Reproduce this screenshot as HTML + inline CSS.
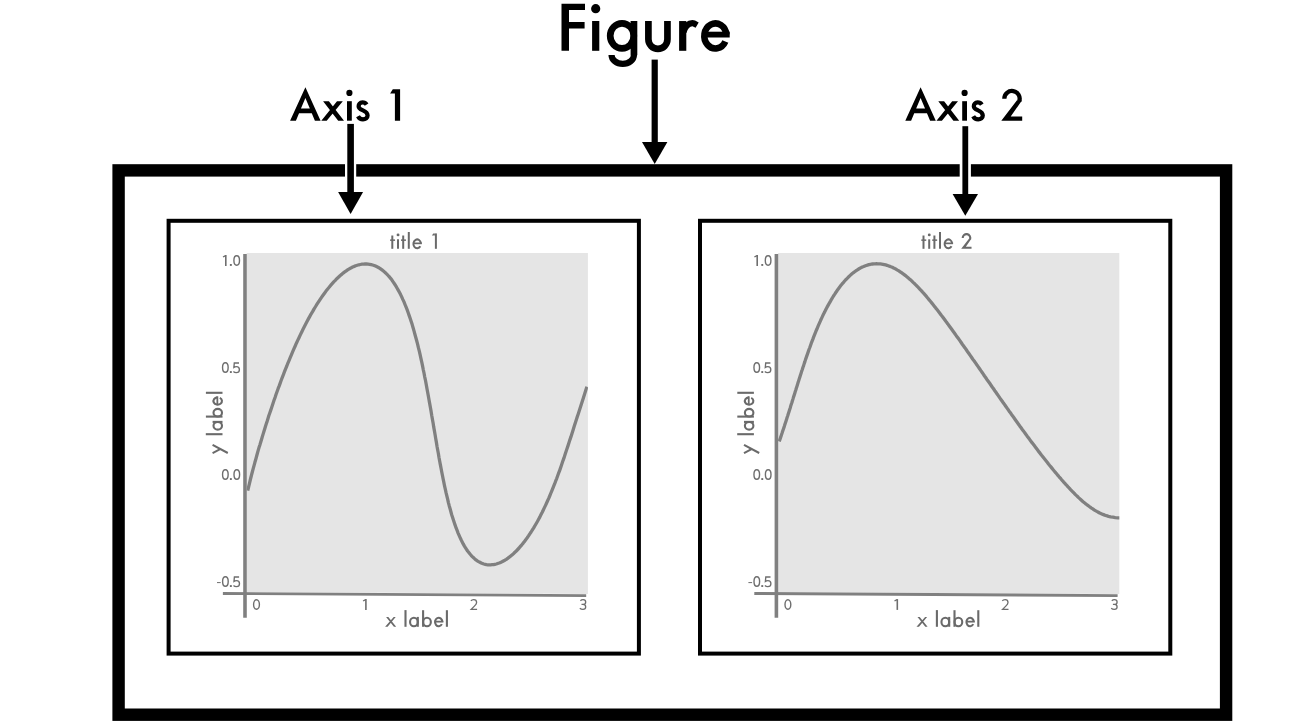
<!DOCTYPE html>
<html><head><meta charset="utf-8"><style>
html,body{margin:0;padding:0;background:#fff;width:1313px;height:727px;overflow:hidden}
svg{display:block;font-family:"Liberation Sans", sans-serif}
</style></head><body>
<svg width="1313" height="727" viewBox="0 0 1313 727">
<rect x="118.6" y="170.4" width="1107.5" height="544.3" fill="none" stroke="#000" stroke-width="12.4"/>
<rect x="168.6" y="220.8" width="470.3" height="432.8" fill="none" stroke="#000" stroke-width="4"/>
<polygon points="246.7,253 587.9,253 587.9,594 246.7,592" fill="#e5e5e5"/>
<clipPath id="c0"><rect x="246.7" y="250" width="341.2" height="345"/></clipPath>
<path d="M247.7 490.7 L248.7 486.6 L249.6 482.8 L250.5 479.0 L251.4 475.5 L252.3 472.0 L253.2 468.6 L254.1 465.4 L254.9 462.3 L255.8 459.2 L256.6 456.2 L257.4 453.3 L258.2 450.4 L259.0 447.6 L259.9 444.9 L260.7 442.2 L261.5 439.5 L262.3 436.8 L263.1 434.1 L263.9 431.5 L264.7 428.9 L265.5 426.3 L266.3 423.7 L267.2 421.1 L268.0 418.5 L268.8 415.8 L269.7 413.2 L270.6 410.6 L271.5 407.9 L272.4 405.2 L273.3 402.5 L274.2 399.8 L275.2 397.1 L276.1 394.3 L277.1 391.5 L278.1 388.7 L279.2 385.9 L280.2 383.1 L281.2 380.3 L282.3 377.4 L283.4 374.6 L284.5 371.7 L285.6 368.8 L286.8 366.0 L287.9 363.1 L289.1 360.3 L290.3 357.4 L291.5 354.6 L292.7 351.7 L293.9 348.9 L295.2 346.0 L296.4 343.2 L297.7 340.4 L299.0 337.7 L300.3 334.9 L301.6 332.2 L302.9 329.5 L304.3 326.8 L305.7 324.1 L307.0 321.5 L308.4 318.9 L309.8 316.4 L311.2 313.8 L312.7 311.4 L314.1 308.9 L315.6 306.5 L317.0 304.2 L318.5 301.9 L320.0 299.6 L321.5 297.4 L323.0 295.3 L324.5 293.2 L326.0 291.1 L327.5 289.2 L329.1 287.3 L330.6 285.4 L332.2 283.6 L333.7 281.9 L335.3 280.3 L336.8 278.7 L338.4 277.2 L340.0 275.7 L341.6 274.4 L343.1 273.1 L344.7 271.9 L346.3 270.8 L347.9 269.7 L349.4 268.8 L351.0 267.9 L352.6 267.1 L354.2 266.4 L355.7 265.8 L357.3 265.3 L358.9 264.8 L360.4 264.5 L362.0 264.2 L363.5 264.1 L365.0 264.0 L366.6 264.0 L368.1 264.1 L369.6 264.3 L371.1 264.6 L372.6 265.0 L374.1 265.5 L375.5 266.1 L377.0 266.8 L378.4 267.5 L379.9 268.4 L381.3 269.4 L382.7 270.4 L384.1 271.6 L385.4 272.8 L386.8 274.1 L388.1 275.5 L389.5 277.0 L390.8 278.6 L392.1 280.3 L393.3 282.1 L394.6 284.0 L395.8 285.9 L397.0 288.0 L398.2 290.1 L399.4 292.3 L400.6 294.6 L401.7 296.9 L402.8 299.4 L404.0 301.9 L405.0 304.5 L406.1 307.2 L407.2 309.9 L408.2 312.7 L409.2 315.6 L410.2 318.5 L411.2 321.5 L412.2 324.6 L413.1 327.7 L414.0 330.9 L414.9 334.2 L415.8 337.5 L416.7 340.8 L417.6 344.2 L418.4 347.7 L419.3 351.2 L420.1 354.7 L420.9 358.3 L421.7 361.9 L422.5 365.6 L423.2 369.3 L424.0 373.0 L424.7 376.8 L425.5 380.5 L426.2 384.3 L426.9 388.2 L427.6 392.0 L428.3 395.8 L429.0 399.7 L429.7 403.6 L430.4 407.5 L431.1 411.4 L431.7 415.3 L432.4 419.2 L433.1 423.0 L433.7 426.9 L434.4 430.8 L435.1 434.7 L435.7 438.5 L436.4 442.4 L437.0 446.2 L437.7 450.0 L438.4 453.7 L439.0 457.5 L439.7 461.2 L440.4 464.9 L441.1 468.5 L441.8 472.2 L442.5 475.7 L443.2 479.3 L443.9 482.7 L444.6 486.2 L445.4 489.6 L446.1 492.9 L446.9 496.2 L447.7 499.4 L448.4 502.6 L449.2 505.7 L450.1 508.8 L450.9 511.7 L451.7 514.7 L452.6 517.5 L453.5 520.3 L454.4 523.0 L455.3 525.6 L456.2 528.2 L457.2 530.7 L458.1 533.1 L459.1 535.4 L460.1 537.6 L461.1 539.8 L462.2 541.9 L463.2 543.9 L464.3 545.8 L465.4 547.6 L466.5 549.3 L467.6 551.0 L468.8 552.5 L470.0 554.0 L471.1 555.3 L472.3 556.6 L473.6 557.8 L474.8 558.9 L476.0 559.9 L477.3 560.8 L478.6 561.6 L479.9 562.3 L481.2 563.0 L482.5 563.5 L483.8 564.0 L485.2 564.3 L486.5 564.6 L487.9 564.8 L489.3 564.8 L490.7 564.8 L492.1 564.7 L493.5 564.6 L494.9 564.3 L496.3 564.0 L497.7 563.5 L499.2 563.0 L500.6 562.4 L502.0 561.8 L503.4 561.0 L504.9 560.2 L506.3 559.3 L507.7 558.3 L509.2 557.2 L510.6 556.1 L512.0 554.9 L513.4 553.7 L514.9 552.3 L516.3 551.0 L517.7 549.5 L519.1 548.0 L520.4 546.4 L521.8 544.8 L523.2 543.1 L524.5 541.4 L525.9 539.6 L527.2 537.8 L528.5 535.9 L529.8 533.9 L531.1 532.0 L532.4 529.9 L533.7 527.9 L534.9 525.8 L536.1 523.7 L537.4 521.5 L538.6 519.3 L539.8 517.1 L540.9 514.8 L542.1 512.5 L543.2 510.2 L544.3 507.9 L545.4 505.6 L546.5 503.2 L547.6 500.8 L548.7 498.4 L549.7 496.0 L550.7 493.5 L551.7 491.1 L552.7 488.6 L553.7 486.2 L554.7 483.7 L555.6 481.2 L556.6 478.8 L557.5 476.3 L558.4 473.7 L559.4 471.2 L560.3 468.6 L561.2 466.0 L562.1 463.3 L563.0 460.6 L564.0 457.9 L564.9 455.1 L565.8 452.2 L566.8 449.3 L567.8 446.4 L568.8 443.3 L569.8 440.1 L570.9 436.9 L572.0 433.4 L573.1 429.9 L574.3 426.1 L575.6 422.1 L576.9 417.9 L578.4 413.5 L579.9 408.8 L581.5 403.7 L583.2 398.4 L585.0 392.8 L586.9 386.7" clip-path="url(#c0)" fill="none" stroke="#808080" stroke-width="3.3" stroke-linecap="butt" stroke-linejoin="round"/>
<line x1="245.0" y1="254" x2="245.0" y2="617.7" stroke="#808080" stroke-width="3.6"/>
<line x1="222.9" y1="593.45" x2="586.2" y2="595.6" stroke="#808080" stroke-width="2.9"/>
<g fill="#6e6e6e" stroke="#6e6e6e"><path d="M225.80 255.10V265.90" fill="none" stroke-width="1.6"/><path d="M225.60 255.60L223.00 257.00" fill="none" stroke-width="1.4"/><rect x="229.90" y="264.00" width="1.9" height="1.9" stroke="none"/><ellipse cx="236.70" cy="260.45" rx="2.80" ry="4.75" fill="none" stroke-width="1.4"/><ellipse cx="225.35" cy="367.50" rx="2.80" ry="4.80" fill="none" stroke-width="1.4"/><rect x="229.90" y="371.10" width="1.9" height="1.9" stroke="none"/><path d="M239.00 363.00H234.30L233.90 367.40C234.70 366.80 235.60 366.60 236.40 366.60C238.20 366.60 239.40 367.90 239.40 369.70C239.40 371.50 238.10 372.60 236.30 372.60C235.10 372.60 234.10 372.20 233.40 371.50" fill="none" stroke-width="1.35"/><ellipse cx="225.35" cy="474.50" rx="2.80" ry="4.80" fill="none" stroke-width="1.4"/><rect x="229.90" y="478.10" width="1.9" height="1.9" stroke="none"/><ellipse cx="236.80" cy="474.50" rx="2.80" ry="4.80" fill="none" stroke-width="1.4"/><path d="M217.00 582.60H220.70" fill="none" stroke-width="1.0"/><ellipse cx="225.40" cy="581.50" rx="2.80" ry="4.80" fill="none" stroke-width="1.4"/><rect x="229.90" y="585.10" width="1.9" height="1.9" stroke="none"/><path d="M239.10 577.00H234.40L234.00 581.40C234.80 580.80 235.70 580.60 236.50 580.60C238.30 580.60 239.50 581.90 239.50 583.70C239.50 585.50 238.20 586.60 236.40 586.60C235.20 586.60 234.20 586.20 233.50 585.50" fill="none" stroke-width="1.35"/><ellipse cx="256.50" cy="604.45" rx="2.90" ry="4.75" fill="none" stroke-width="1.4"/><path d="M365.90 599.10V609.90" fill="none" stroke-width="1.6"/><path d="M365.70 599.60L363.10 601.00" fill="none" stroke-width="1.4"/><path d="M470.90 600.90C471.70 599.70 472.80 599.60 473.70 599.60C475.50 599.60 476.60 600.80 476.60 602.40C476.60 603.90 475.50 605.00 474.40 606.10L471.20 609.30H477.10" fill="none" stroke-width="1.3" stroke-linejoin="miter"/><path d="M580.40 600.80C581.20 599.90 582.20 599.60 583.10 599.60C584.70 599.60 585.70 600.50 585.70 601.90C585.70 603.40 584.50 604.40 583.00 604.40H581.50M583.00 604.40C584.90 604.40 585.70 605.60 585.70 607.00C585.70 608.50 584.50 609.30 583.00 609.30C581.70 609.30 580.60 608.90 579.80 608.20" fill="none" stroke-width="1.3"/></g>
<g fill="#6a6a6a" stroke="#6a6a6a"><path d="M386.10 617.1H388.30L396.20 626.8H393.90Z M393.70 617.1H395.70L387.60 626.8H385.10Z" stroke="none"/><path d="M405.50 610.10V626.80" fill="none" stroke-width="2.1"/><ellipse cx="413.90" cy="622.05" rx="3.85" ry="4.25" fill="none" stroke-width="2.1"/><path d="M417.80 616.90V626.80" fill="none" stroke-width="2.1"/><path d="M423.10 610.20V626.80" fill="none" stroke-width="2.1"/><ellipse cx="427.00" cy="622.05" rx="3.85" ry="4.25" fill="none" stroke-width="2.1"/><path d="M442.34 621.65A3.65 4.25 0 1 0 441.86 624.12" fill="none" stroke-width="2.1"/><path d="M434.60 621.65H443.40" fill="none" stroke-width="1.78"/><path d="M446.90 610.20V626.80" fill="none" stroke-width="2.1"/></g>
<g transform="translate(222.50,453.8) rotate(-90)" fill="#6a6a6a" stroke="#6a6a6a"><path d="M9.0 -9.9L0.8 5.3" fill="none" stroke-width="2.0"/><path d="M0.6 -9.9L4.6 -2.4" fill="none" stroke-width="2.0"/><path d="M19.60 -16.70V0.00" fill="none" stroke-width="2.1"/><ellipse cx="28.00" cy="-4.75" rx="3.85" ry="4.25" fill="none" stroke-width="2.1"/><path d="M31.90 -9.90V0.00" fill="none" stroke-width="2.1"/><path d="M37.20 -16.60V0.00" fill="none" stroke-width="2.1"/><ellipse cx="41.10" cy="-4.75" rx="3.85" ry="4.25" fill="none" stroke-width="2.1"/><path d="M56.44 -5.15A3.65 4.25 0 1 0 55.96 -2.67" fill="none" stroke-width="2.1"/><path d="M48.70 -5.15H57.50" fill="none" stroke-width="1.78"/><path d="M61.00 -16.60V0.00" fill="none" stroke-width="2.1"/></g>
<rect x="700.0" y="220.8" width="470.3" height="432.8" fill="none" stroke="#000" stroke-width="4"/>
<polygon points="778.1,253 1119.3,253 1119.3,594 778.1,592" fill="#e5e5e5"/>
<clipPath id="c531"><rect x="778.1" y="250" width="341.2" height="345"/></clipPath>
<path d="M779.2 441.4 L780.2 438.6 L781.1 435.9 L782.0 433.3 L782.8 430.8 L783.6 428.4 L784.4 426.1 L785.1 423.8 L785.8 421.7 L786.5 419.6 L787.1 417.5 L787.8 415.5 L788.4 413.6 L789.0 411.7 L789.6 409.8 L790.2 407.9 L790.7 406.1 L791.3 404.3 L791.9 402.5 L792.4 400.7 L793.0 398.9 L793.5 397.1 L794.1 395.4 L794.7 393.6 L795.2 391.8 L795.8 390.0 L796.3 388.2 L796.9 386.4 L797.5 384.6 L798.0 382.8 L798.6 380.9 L799.2 379.1 L799.8 377.2 L800.4 375.3 L801.0 373.4 L801.6 371.4 L802.3 369.5 L802.9 367.5 L803.6 365.6 L804.2 363.6 L804.9 361.6 L805.5 359.6 L806.2 357.6 L806.9 355.6 L807.6 353.6 L808.3 351.6 L809.0 349.5 L809.8 347.5 L810.5 345.5 L811.2 343.4 L812.0 341.4 L812.8 339.4 L813.5 337.4 L814.3 335.3 L815.1 333.3 L815.9 331.3 L816.8 329.3 L817.6 327.3 L818.4 325.4 L819.3 323.4 L820.2 321.4 L821.0 319.5 L821.9 317.6 L822.8 315.6 L823.7 313.7 L824.7 311.9 L825.6 310.0 L826.5 308.2 L827.5 306.4 L828.5 304.6 L829.5 302.8 L830.5 301.1 L831.5 299.3 L832.5 297.7 L833.5 296.0 L834.6 294.4 L835.6 292.8 L836.7 291.2 L837.7 289.7 L838.8 288.2 L839.9 286.7 L841.0 285.3 L842.1 283.9 L843.3 282.6 L844.4 281.3 L845.5 280.0 L846.7 278.8 L847.9 277.6 L849.0 276.5 L850.2 275.4 L851.4 274.3 L852.6 273.3 L853.8 272.4 L855.0 271.5 L856.2 270.6 L857.4 269.8 L858.7 269.0 L859.9 268.3 L861.2 267.6 L862.4 267.0 L863.7 266.5 L864.9 266.0 L866.2 265.5 L867.5 265.1 L868.8 264.7 L870.0 264.5 L871.3 264.2 L872.6 264.0 L873.9 263.9 L875.2 263.8 L876.5 263.7 L877.8 263.8 L879.1 263.8 L880.4 263.9 L881.7 264.1 L883.0 264.3 L884.3 264.6 L885.7 264.9 L887.0 265.3 L888.3 265.8 L889.6 266.2 L890.9 266.8 L892.3 267.3 L893.6 268.0 L894.9 268.6 L896.2 269.3 L897.5 270.1 L898.9 270.9 L900.2 271.8 L901.5 272.7 L902.8 273.6 L904.2 274.6 L905.5 275.6 L906.8 276.7 L908.1 277.8 L909.4 278.9 L910.8 280.1 L912.1 281.3 L913.4 282.6 L914.7 283.8 L916.0 285.1 L917.4 286.5 L918.7 287.9 L920.0 289.3 L921.3 290.7 L922.6 292.2 L924.0 293.7 L925.3 295.2 L926.6 296.7 L927.9 298.3 L929.2 299.9 L930.6 301.5 L931.9 303.1 L933.2 304.7 L934.5 306.4 L935.8 308.1 L937.2 309.8 L938.5 311.5 L939.8 313.2 L941.1 315.0 L942.5 316.7 L943.8 318.5 L945.1 320.3 L946.4 322.1 L947.8 323.9 L949.1 325.7 L950.4 327.5 L951.7 329.3 L953.1 331.2 L954.4 333.0 L955.7 334.9 L957.0 336.7 L958.4 338.6 L959.7 340.4 L961.0 342.3 L962.3 344.2 L963.6 346.0 L965.0 347.9 L966.3 349.8 L967.6 351.7 L968.9 353.5 L970.2 355.4 L971.5 357.3 L972.8 359.2 L974.2 361.0 L975.5 362.9 L976.8 364.8 L978.1 366.6 L979.4 368.5 L980.7 370.4 L982.0 372.2 L983.3 374.1 L984.5 376.0 L985.8 377.8 L987.1 379.7 L988.4 381.5 L989.7 383.3 L991.0 385.2 L992.2 387.0 L993.5 388.8 L994.8 390.7 L996.1 392.5 L997.3 394.3 L998.6 396.1 L999.8 397.9 L1001.1 399.7 L1002.4 401.5 L1003.6 403.3 L1004.9 405.0 L1006.1 406.8 L1007.4 408.6 L1008.6 410.3 L1009.8 412.1 L1011.1 413.8 L1012.3 415.6 L1013.6 417.3 L1014.8 419.0 L1016.0 420.7 L1017.3 422.5 L1018.5 424.2 L1019.7 425.9 L1020.9 427.5 L1022.1 429.2 L1023.4 430.9 L1024.6 432.6 L1025.8 434.2 L1027.0 435.9 L1028.2 437.5 L1029.4 439.1 L1030.6 440.8 L1031.8 442.4 L1033.1 444.0 L1034.3 445.6 L1035.5 447.2 L1036.7 448.8 L1037.8 450.3 L1039.0 451.9 L1040.2 453.4 L1041.4 455.0 L1042.6 456.5 L1043.8 458.0 L1045.0 459.5 L1046.2 461.0 L1047.4 462.5 L1048.5 464.0 L1049.7 465.5 L1050.9 466.9 L1052.1 468.4 L1053.2 469.8 L1054.4 471.2 L1055.6 472.6 L1056.8 474.0 L1057.9 475.4 L1059.1 476.8 L1060.3 478.1 L1061.4 479.5 L1062.6 480.8 L1063.7 482.1 L1064.9 483.4 L1066.0 484.7 L1067.2 485.9 L1068.3 487.2 L1069.5 488.4 L1070.6 489.6 L1071.8 490.8 L1072.9 492.0 L1074.1 493.1 L1075.2 494.3 L1076.3 495.4 L1077.5 496.5 L1078.6 497.6 L1079.7 498.6 L1080.9 499.7 L1082.0 500.7 L1083.1 501.7 L1084.3 502.6 L1085.4 503.6 L1086.6 504.5 L1087.8 505.4 L1089.0 506.3 L1090.2 507.2 L1091.5 508.1 L1092.8 508.9 L1094.1 509.8 L1095.4 510.6 L1096.8 511.4 L1098.3 512.2 L1099.7 513.0 L1101.3 513.7 L1102.9 514.4 L1104.7 515.1 L1106.5 515.7 L1108.5 516.3 L1110.6 516.8 L1112.9 517.2 L1115.3 517.6 L1117.9 517.8 L1120.7 518.0 L1123.7 518.1 L1127.0 518.1" clip-path="url(#c531)" fill="none" stroke="#808080" stroke-width="3.3" stroke-linecap="butt" stroke-linejoin="round"/>
<line x1="776.4" y1="254" x2="776.4" y2="617.7" stroke="#808080" stroke-width="3.6"/>
<line x1="754.3" y1="593.45" x2="1117.6" y2="595.6" stroke="#808080" stroke-width="2.9"/>
<g fill="#6e6e6e" stroke="#6e6e6e"><path d="M757.20 255.10V265.90" fill="none" stroke-width="1.6"/><path d="M757.00 255.60L754.40 257.00" fill="none" stroke-width="1.4"/><rect x="761.30" y="264.00" width="1.9" height="1.9" stroke="none"/><ellipse cx="768.10" cy="260.45" rx="2.80" ry="4.75" fill="none" stroke-width="1.4"/><ellipse cx="756.75" cy="367.50" rx="2.80" ry="4.80" fill="none" stroke-width="1.4"/><rect x="761.30" y="371.10" width="1.9" height="1.9" stroke="none"/><path d="M770.40 363.00H765.70L765.30 367.40C766.10 366.80 767.00 366.60 767.80 366.60C769.60 366.60 770.80 367.90 770.80 369.70C770.80 371.50 769.50 372.60 767.70 372.60C766.50 372.60 765.50 372.20 764.80 371.50" fill="none" stroke-width="1.35"/><ellipse cx="756.75" cy="474.50" rx="2.80" ry="4.80" fill="none" stroke-width="1.4"/><rect x="761.30" y="478.10" width="1.9" height="1.9" stroke="none"/><ellipse cx="768.20" cy="474.50" rx="2.80" ry="4.80" fill="none" stroke-width="1.4"/><path d="M748.40 582.60H752.10" fill="none" stroke-width="1.0"/><ellipse cx="756.80" cy="581.50" rx="2.80" ry="4.80" fill="none" stroke-width="1.4"/><rect x="761.30" y="585.10" width="1.9" height="1.9" stroke="none"/><path d="M770.50 577.00H765.80L765.40 581.40C766.20 580.80 767.10 580.60 767.90 580.60C769.70 580.60 770.90 581.90 770.90 583.70C770.90 585.50 769.60 586.60 767.80 586.60C766.60 586.60 765.60 586.20 764.90 585.50" fill="none" stroke-width="1.35"/><ellipse cx="787.90" cy="604.45" rx="2.90" ry="4.75" fill="none" stroke-width="1.4"/><path d="M897.30 599.10V609.90" fill="none" stroke-width="1.6"/><path d="M897.10 599.60L894.50 601.00" fill="none" stroke-width="1.4"/><path d="M1002.30 600.90C1003.10 599.70 1004.20 599.60 1005.10 599.60C1006.90 599.60 1008.00 600.80 1008.00 602.40C1008.00 603.90 1006.90 605.00 1005.80 606.10L1002.60 609.30H1008.50" fill="none" stroke-width="1.3" stroke-linejoin="miter"/><path d="M1111.80 600.80C1112.60 599.90 1113.60 599.60 1114.50 599.60C1116.10 599.60 1117.10 600.50 1117.10 601.90C1117.10 603.40 1115.90 604.40 1114.40 604.40H1112.90M1114.40 604.40C1116.30 604.40 1117.10 605.60 1117.10 607.00C1117.10 608.50 1115.90 609.30 1114.40 609.30C1113.10 609.30 1112.00 608.90 1111.20 608.20" fill="none" stroke-width="1.3"/></g>
<g fill="#6a6a6a" stroke="#6a6a6a"><path d="M917.50 617.1H919.70L927.60 626.8H925.30Z M925.10 617.1H927.10L919.00 626.8H916.50Z" stroke="none"/><path d="M936.90 610.10V626.80" fill="none" stroke-width="2.1"/><ellipse cx="945.30" cy="622.05" rx="3.85" ry="4.25" fill="none" stroke-width="2.1"/><path d="M949.20 616.90V626.80" fill="none" stroke-width="2.1"/><path d="M954.50 610.20V626.80" fill="none" stroke-width="2.1"/><ellipse cx="958.40" cy="622.05" rx="3.85" ry="4.25" fill="none" stroke-width="2.1"/><path d="M973.74 621.65A3.65 4.25 0 1 0 973.26 624.12" fill="none" stroke-width="2.1"/><path d="M966.00 621.65H974.80" fill="none" stroke-width="1.78"/><path d="M978.30 610.20V626.80" fill="none" stroke-width="2.1"/></g>
<g transform="translate(753.90,453.8) rotate(-90)" fill="#6a6a6a" stroke="#6a6a6a"><path d="M9.0 -9.9L0.8 5.3" fill="none" stroke-width="2.0"/><path d="M0.6 -9.9L4.6 -2.4" fill="none" stroke-width="2.0"/><path d="M19.60 -16.70V0.00" fill="none" stroke-width="2.1"/><ellipse cx="28.00" cy="-4.75" rx="3.85" ry="4.25" fill="none" stroke-width="2.1"/><path d="M31.90 -9.90V0.00" fill="none" stroke-width="2.1"/><path d="M37.20 -16.60V0.00" fill="none" stroke-width="2.1"/><ellipse cx="41.10" cy="-4.75" rx="3.85" ry="4.25" fill="none" stroke-width="2.1"/><path d="M56.44 -5.15A3.65 4.25 0 1 0 55.96 -2.67" fill="none" stroke-width="2.1"/><path d="M48.70 -5.15H57.50" fill="none" stroke-width="1.78"/><path d="M61.00 -16.60V0.00" fill="none" stroke-width="2.1"/></g>
<g fill="#6a6a6a" stroke="#6a6a6a"><path d="M392.30 235.5V248.8" fill="none" stroke-width="2.0"/><path d="M390.10 240.15H395.05" fill="none" stroke-width="1.5"/><path d="M403.20 235.5V248.8" fill="none" stroke-width="2.0"/><path d="M401.00 240.15H405.95" fill="none" stroke-width="1.5"/><path d="M398.00 239.3V248.8" fill="none" stroke-width="2.0"/><circle cx="398.05" cy="234.9" r="1.45" stroke="none"/><path d="M408.80 232V248.8" fill="none" stroke-width="2.0"/><path d="M420.88 243.35A3.75 4.45 0 1 0 420.33 246.21" fill="none" stroke-width="2.0"/><path d="M413.00 243.35H421.90" fill="none" stroke-width="1.70"/><path d="M435.90 233.4V248.8" fill="none" stroke-width="2.0"/><path d="M433.30 233.4H434.90V235.5H431.90Z" stroke="none"/></g>
<g fill="#6a6a6a" stroke="#6a6a6a"><path d="M923.50 235.5V248.8" fill="none" stroke-width="2.0"/><path d="M921.30 240.15H926.25" fill="none" stroke-width="1.5"/><path d="M934.40 235.5V248.8" fill="none" stroke-width="2.0"/><path d="M932.20 240.15H937.15" fill="none" stroke-width="1.5"/><path d="M929.20 239.3V248.8" fill="none" stroke-width="2.0"/><circle cx="929.25" cy="234.9" r="1.45" stroke="none"/><path d="M940.00 232V248.8" fill="none" stroke-width="2.0"/><path d="M952.08 243.35A3.75 4.45 0 1 0 951.53 246.21" fill="none" stroke-width="2.0"/><path d="M944.20 243.35H953.10" fill="none" stroke-width="1.70"/><g transform="translate(961.20,233.10) scale(0.494) translate(-1001.3,-89.0)"><path d="M1004.35 98.7A7.65 7.65 0 1 1 1019.2 101.2" fill="none" stroke-width="4.3"/><path d="M1017 100.3L1021.9 100.6L1010.7 116.4H1022.2V120.7H1001.3Z" stroke="none"/></g></g>
<g fill="#000"><path d="M561.5 3.85H585V10.1H569V21.9H584.6V28.4H569V50.8H561.5Z"/><rect x="592.1" y="21" width="7.2" height="29.8"/><circle cx="595.7" cy="8.7" r="4.6"/><ellipse cx="622.0" cy="35.85" rx="11.8" ry="12.5" fill="none" stroke="#000" stroke-width="6.7"/><rect x="630.6" y="21" width="6.7" height="34.2"/><path d="M633.95 55A11.2 8.9 0 0 1 611.55 55" fill="none" stroke="#000" stroke-width="6.2"/><path d="M648.4 21V39.3A9.525 9.525 0 0 0 667.45 39.3V21" fill="none" stroke="#000" stroke-width="6.7"/><rect x="679.1" y="21.05" width="7.2" height="29.75"/><path d="M683.5 32C685.5 25.5 689.3 23.1 692.4 23.1C693.8 23.1 695.2 23.9 697.15 25.05" fill="none" stroke="#000" stroke-width="6.1"/><path d="M726.39 34.6A11.05 12.55 0 1 0 725.33 41.45" fill="none" stroke="#000" stroke-width="6.6"/><rect x="705" y="31.7" width="24.7" height="5.8"/></g>
<g fill="#000"><path fill-rule="evenodd" d="M290.1 120.7L305.4 87.2L320.6 120.7Z M305.4 98L309.84 108.6L300.96 108.6Z M299.04 113.2L311.76 113.2L314.9 120.7L295.9 120.7Z"/><path d="M323.1 101.2H328.9L344 120.7H338.2Z M337 101.2H342.8L326.7 120.7H321.3Z"/><rect x="347" y="101.2" width="4.8" height="19.5"/><circle cx="349.4" cy="92.9" r="3.1"/><path d="M366.6 104.6C365.5 102.8 363.6 102.4 362.4 102.4C359.9 102.4 358.6 104.3 358.6 106.2C358.6 108.6 360.8 109.4 363 110.4C365.6 111.5 367.6 112.6 367.6 115.6C367.6 118 365.6 119.4 363 119.4C360.4 119.4 358.9 118 358 116.2" fill="none" stroke="#000" stroke-width="4.2"/><path d="M392.8 89.3H400.1V120.7H394.9V93.6H390.1Z"/></g>
<g fill="#000"><path fill-rule="evenodd" d="M905.3000000000001 120.7L920.6 87.2L935.8000000000001 120.7Z M920.6 98L925.04 108.6L916.1600000000001 108.6Z M914.24 113.2L926.96 113.2L930.1 120.7L911.1 120.7Z"/><path d="M938.3000000000001 101.2H944.1L959.2 120.7H953.4000000000001Z M952.2 101.2H958.0L941.9000000000001 120.7H936.5Z"/><rect x="962.2" y="101.2" width="4.8" height="19.5"/><circle cx="964.6" cy="92.9" r="3.1"/><path d="M981.8000000000001 104.6C980.7 102.8 978.8000000000001 102.4 977.6 102.4C975.1 102.4 973.8000000000001 104.3 973.8000000000001 106.2C973.8000000000001 108.6 976.0 109.4 978.2 110.4C980.8000000000001 111.5 982.8000000000001 112.6 982.8000000000001 115.6C982.8000000000001 118 980.8000000000001 119.4 978.2 119.4C975.6 119.4 974.1 118 973.2 116.2" fill="none" stroke="#000" stroke-width="4.2"/><path d="M1004.35 98.7A7.65 7.65 0 1 1 1019.2 101.2" fill="none" stroke="#000" stroke-width="4.3"/><path d="M1017 100.3L1021.9 100.6L1010.7 116.4H1022.2V120.7H1001.3Z"/></g>
<rect x="651.60" y="59.6" width="6.2" height="83.4" fill="#000"/>
<polygon points="642.00,142 667.40,142 654.70,164.1" fill="#000"/>
<rect x="345.0" y="163" width="11.2" height="15" fill="#fff"/>
<rect x="347.30" y="123.9" width="6.6" height="69.2" fill="#000"/>
<polygon points="338.10,192.1 363.10,192.1 350.60,213.9" fill="#000"/>
<rect x="959.7" y="163" width="11.2" height="15" fill="#fff"/>
<rect x="962.40" y="126.2" width="5.8" height="68.8" fill="#000"/>
<polygon points="952.60,194 978.00,194 965.30,215.8" fill="#000"/>
</svg>
</body></html>
